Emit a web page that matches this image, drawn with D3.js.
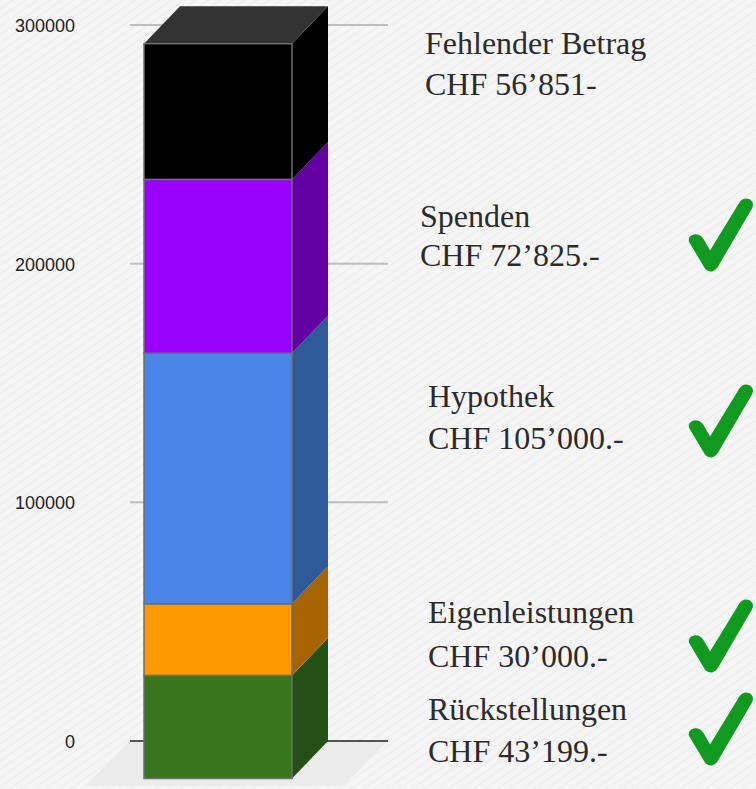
<!DOCTYPE html>
<html>
<head>
<meta charset="utf-8">
<script src="https://cdn.jsdelivr.net/npm/d3@7"></script>
<style>
  html, body { margin: 0; padding: 0; background: #f4f4f4; }
  svg { display: block; }
</style>
</head>
<body>
<svg id="chart" width="756" height="789"></svg>
<script>
// ---- data ----
const categories = ["Rückstellungen", "Eigenleistungen", "Hypothek", "Spenden", "Fehlender Betrag"];
const values = [43199, 30000, 105000, 72825, 56851];
const amountLabels = ["CHF 43’199.-", "CHF 30’000.-", "CHF 105’000.-", "CHF 72’825.-", "CHF 56’851-"];
const checked = [true, true, true, true, false];
const tickValues = [0, 100000, 200000, 300000];

// ---- styles / layout ----
const frontColors = ["#38761d", "#ff9900", "#4a86e8", "#9900ff", "#000000"];
const sideColors  = ["#244f15", "#a86400", "#2f5a9a", "#6200a3", "#000000"];
const labelPos = [
  {x: 428, y1: 720, y2: 762},
  {x: 428, y1: 623, y2: 667},
  {x: 428, y1: 407, y2: 449},
  {x: 420, y1: 227, y2: 266},
  {x: 425, y1: 54,  y2: 95}
];
const checkPos = [{x: 690, y: 693}, {x: 690, y: 600}, {x: 690, y: 385}, {x: 690, y: 199}];

const W = 756, H = 789;
const depthX = 36, depthY = 37.5;

const svg = d3.select("#chart");

// background texture
const defs = svg.append("defs");
const pat = defs.append("pattern").attr("id", "tex").attr("patternUnits", "userSpaceOnUse")
  .attr("width", 7).attr("height", 7).attr("patternTransform", "rotate(-35)");
pat.append("rect").attr("width", 7).attr("height", 7).attr("fill", "#f5f5f5");
pat.append("line").attr("x1", 0).attr("y1", 0).attr("x2", 7).attr("y2", 0)
  .attr("stroke", "#ececec").attr("stroke-width", 2);
svg.append("rect").attr("width", W).attr("height", H).attr("fill", "url(#tex)");

// scales
const y = d3.scaleLinear().domain([0, 300000]).range([741, 25]);
const x = d3.scaleBand().domain(["Finanzierung"]).range([144, 292]).padding(0);

// gridlines (back plane)
const gridX0 = 130, gridX1 = 388;
svg.append("g").selectAll("line").data(tickValues.filter(d => d !== 0)).join("line")
  .attr("x1", gridX0).attr("x2", gridX1)
  .attr("y1", d => y(d)).attr("y2", d => y(d))
  .attr("stroke", "#bdbdbd").attr("stroke-width", 2);

// floor
const floorDepth = 45;
svg.append("path")
  .attr("d", `M${gridX0},${y(0)} L${gridX1},${y(0)} L${gridX1 - floorDepth},${y(0) + floorDepth} L${gridX0 - floorDepth},${y(0) + floorDepth} Z`)
  .attr("fill", "#ebebeb");
svg.append("line").attr("x1", gridX0).attr("x2", gridX1).attr("y1", y(0)).attr("y2", y(0))
  .attr("stroke", "#555").attr("stroke-width", 2);

// axis labels
const axis = d3.axisLeft(y).tickValues(tickValues).tickFormat(d3.format("d")).tickSize(0).tickPadding(0);
const axG = svg.append("g").attr("transform", "translate(75,0)").call(axis);
axG.select(".domain").remove();
axG.selectAll("text")
  .attr("font-family", "Liberation Sans, Arial, sans-serif")
  .attr("font-size", 18).attr("fill", "#222")
  .attr("dy", "0.36em");

// stacked data
const stackData = [];
let acc = 0;
values.forEach((v, i) => { stackData.push({i, y0: acc, y1: acc + v}); acc += v; });
const total = acc;

const xf0 = x("Finanzierung"), xf1 = xf0 + x.bandwidth();
const xb0 = xf0 + depthX, xb1 = xf1 + depthX;
const yB = v => y(v);
const yF = v => y(v) + depthY;

const bar = svg.append("g");
// side faces
bar.selectAll("path.side").data(stackData).join("path").attr("class", "side")
  .attr("d", d => `M${xf1},${yF(d.y0)} L${xf1},${yF(d.y1)} L${xb1},${yB(d.y1)} L${xb1},${yB(d.y0)} Z`)
  .attr("fill", d => sideColors[d.i]);
// top face
bar.append("path")
  .attr("d", `M${xf0},${yF(total)} L${xf1},${yF(total)} L${xb1},${yB(total)} L${xb0},${yB(total)} Z`)
  .attr("fill", "#333333");
// front faces
bar.selectAll("rect.front").data(stackData).join("rect").attr("class", "front")
  .attr("x", xf0).attr("width", x.bandwidth())
  .attr("y", d => yF(d.y1)).attr("height", d => yF(d.y0) - yF(d.y1))
  .attr("fill", d => frontColors[d.i])
  .attr("stroke", "#6e6e6e").attr("stroke-width", 1.5);

// labels
const lab = svg.append("g").attr("font-family", "Liberation Serif, 'Times New Roman', serif")
  .attr("font-size", 32).attr("fill", "#2b2b2b");
categories.forEach((c, i) => {
  lab.append("text").attr("x", labelPos[i].x).attr("y", labelPos[i].y1).text(c);
  lab.append("text").attr("x", labelPos[i].x).attr("y", labelPos[i].y2).text(amountLabels[i]);
});

// check marks
const checkPath = "M21.3,50.7 Q20.7,46.7 25,45.7 Q29.3,45 32.7,49.3 L40.7,63.3 L71.7,12.7 Q75,8.3 80,10.7 Q83.3,13.3 81,17.3 L46.7,76 Q42.7,81.7 37.3,77.3 Z";
let ci = 0;
checked.forEach((c, i) => {
  if (!c) return;
  const p = checkPos[ci++];
  svg.append("path").attr("d", checkPath)
    .attr("transform", `translate(${p.x - 20.7},${p.y - 8.5})`)
    .attr("fill", "#109a1f")
    .attr("stroke", "#109a1f").attr("stroke-width", 3.5).attr("stroke-linejoin", "round");
});
</script>
</body>
</html>
